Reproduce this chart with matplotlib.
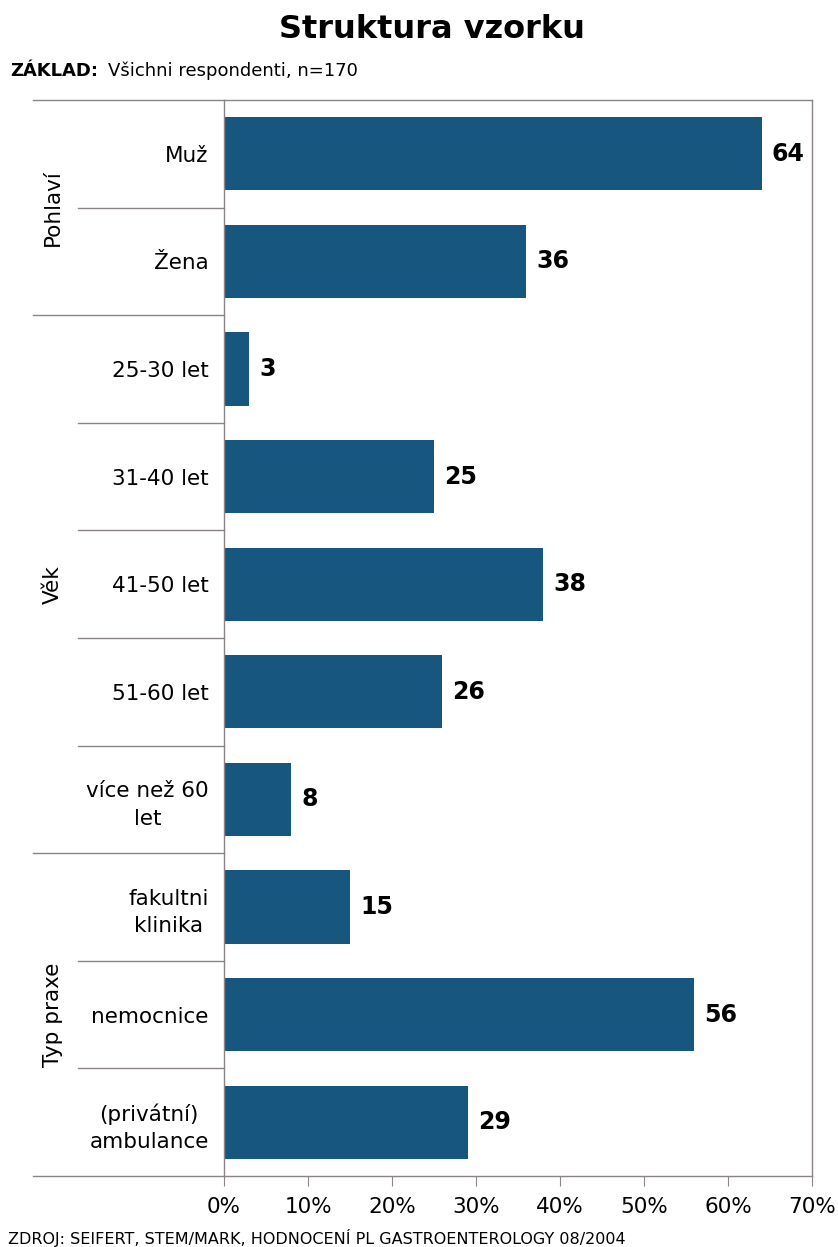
import matplotlib.pyplot as plt
import numpy as np
from matplotlib import transforms

categories = ['Muž', 'Žena', '25-30 let', '31-40 let', '41-50 let', '51-60 let',
              'více než 60\nlet', 'fakultni\nklinika', 'nemocnice', '(privátní)\nambulance']
values = [64, 36, 3, 25, 38, 26, 8, 15, 56, 29]
groups = ['Pohlaví', 'Věk', 'Typ praxe']
group_sizes = [2, 5, 3]
xticks = [0, 10, 20, 30, 40, 50, 60, 70]

bar_color = '#17567f'
line_color = '#8a8488'

fig = plt.figure(figsize=(8.38, 12.47), dpi=100)
ax = fig.add_axes([224 / 838, 1 - 1176 / 1247, 588 / 838, 1076 / 1247])

y = np.arange(len(categories))
ax.barh(y, values, height=0.68, color=bar_color)
for yi, v in zip(y, values):
    ax.text(v + 1.2, yi, str(v), va='center', ha='left', fontsize=17, fontweight='bold')

ax.set_xlim(0, 70)
ax.set_ylim(len(categories) - 0.5, -0.5)
ax.set_xticks(xticks)
ax.set_xticklabels([f'{t}%' for t in xticks], fontsize=15.5)
ax.set_yticks(y)
ax.set_yticklabels(categories, fontsize=15.5, multialignment='center', linespacing=1.45)
ax.tick_params(axis='y', length=0, pad=11)
ax.tick_params(axis='x', length=7, color=line_color, pad=8, direction='out')
for s in ['left', 'right', 'top', 'bottom']:
    ax.spines[s].set_color(line_color)
    ax.spines[s].set_linewidth(1)

# separators in the label area
trans = transforms.blended_transform_factory(ax.transAxes, ax.transData)
x_outer = (33 - 224) / 588
x_inner = (78 - 224) / 588
bounds = np.cumsum(group_sizes)
group_edges = set(bounds.tolist())
for b in range(1, len(categories)):
    x0 = x_outer if b in group_edges else x_inner
    ax.plot([x0, 0], [b - 0.5, b - 0.5], transform=trans, color=line_color, lw=1, clip_on=False)
ax.plot([x_outer, 0], [-0.5, -0.5], transform=trans, color=line_color, lw=1, clip_on=False)
ax.plot([x_outer, 0], [len(categories) - 0.5] * 2, transform=trans, color=line_color, lw=1, clip_on=False)

# group labels
start = 0
for g, n in zip(groups, group_sizes):
    mid = start + n / 2 - 0.5
    ax.text((53 - 224) / 588, mid, g, transform=trans, rotation=90, ha='center', va='center', fontsize=15.5)
    start += n

fig.text(432 / 838, 1 - 30 / 1247, 'Struktura vzorku', ha='center', va='center', fontsize=23, fontweight='bold')
fig.text(10 / 838, 1 - 71 / 1247, 'ZÁKLAD:', ha='left', va='center', fontsize=13, fontweight='bold')
fig.text(108 / 838, 1 - 71 / 1247, 'Všichni respondenti, n=170', ha='left', va='center', fontsize=13)
fig.text(8 / 838, 1 - 1238 / 1247, 'ZDROJ: SEIFERT, STEM/MARK, HODNOCENÍ PL GASTROENTEROLOGY 08/2004',
         ha='left', va='center', fontsize=11.5)

fig.savefig('out.png', dpi=100)
